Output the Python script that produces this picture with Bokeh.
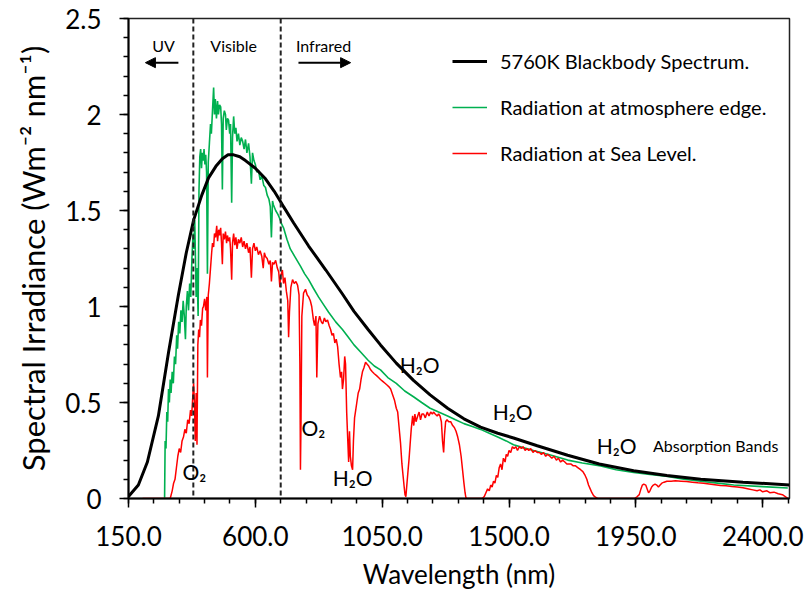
from bokeh.plotting import figure
from bokeh.models import (Legend, LegendItem, Span, Arrow, NormalHead,
                          FixedTicker, NumeralTickFormatter, Label, Range1d)
from bokeh.embed import file_html
from bokeh.resources import INLINE

# ---------------- data ----------------
bb_wl = [150, 185, 217, 256, 292, 327, 355, 381, 410, 434, 460, 483, 503, 523, 545, 565, 600,
         636, 667, 686, 700, 736, 789, 850, 909, 950, 1000, 1044, 1100, 1161, 1220, 1282, 1340,
         1399, 1460, 1516, 1600, 1708, 1820, 1942, 2060, 2180, 2330, 2495]
bb_irr = [0.01, 0.07, 0.19, 0.43, 0.76, 1.06, 1.28, 1.45, 1.58, 1.67, 1.73, 1.77, 1.79, 1.79,
          1.78, 1.76, 1.72, 1.665, 1.60, 1.555, 1.52, 1.435, 1.315, 1.19, 1.065, 0.975, 0.88,
          0.80, 0.705, 0.615, 0.54, 0.47, 0.415, 0.372, 0.34, 0.315, 0.275, 0.225, 0.18, 0.145,
          0.12, 0.10, 0.085, 0.07]

toa_wl = [278, 280, 283, 286, 289, 292, 295, 298, 301, 305, 309, 313, 317, 321, 324, 328, 332,
          336, 340, 344, 348, 352, 355, 359, 363, 367, 371, 375, 379, 382, 385, 390, 393, 397,
          400, 403, 406, 409, 412, 415, 418, 421, 424, 427, 430, 433, 437, 441, 444, 448, 452,
          455, 458, 462, 466, 469, 473, 477, 480, 483, 486, 490, 494, 497, 501, 505, 509, 512,
          516, 519, 523, 527, 531, 535, 540, 545, 550, 555, 560, 565, 570, 576, 581, 586, 590,
          595, 600, 605, 611, 617, 623, 630, 636, 642, 648, 653, 657, 661, 664, 672, 680, 686,
          693, 700, 712, 724, 740, 760, 775, 789, 806, 824, 842, 860, 885, 909, 930, 950, 975,
          1000, 1022, 1044, 1070, 1100, 1130, 1161, 1190, 1220, 1250, 1282, 1310, 1340, 1370,
          1399, 1430, 1460, 1490, 1516, 1550, 1587, 1650, 1708, 1760, 1825, 1880, 1942, 2000,
          2063, 2120, 2180, 2240, 2297, 2400, 2489]
toa_irr = [0.00, 0.30, 0.26, 0.45, 0.40, 0.57, 0.50, 0.62, 0.55, 0.66, 0.60, 0.74, 0.70, 0.85,
           0.78, 0.92, 0.86, 0.98, 0.92, 1.03, 0.95, 0.83, 1.00, 1.08, 0.98, 1.12, 1.05, 1.25,
           1.38, 1.30, 1.45, 1.05, 1.20, 0.95, 1.60, 1.78, 1.82, 1.72, 1.80, 1.76, 1.82, 1.74,
           1.79, 1.70, 1.17, 1.75, 1.85, 1.95, 1.90, 2.02, 2.14, 2.00, 2.08, 1.98, 2.07, 2.00,
           2.05, 2.04, 1.95, 1.61, 1.98, 2.02, 2.00, 1.92, 1.98, 1.97, 1.90, 1.95, 1.54, 1.88,
           1.99, 1.90, 1.93, 1.86, 1.90, 1.84, 1.88, 1.86, 1.82, 1.87, 1.80, 1.85, 1.78, 1.64,
           1.80, 1.76, 1.74, 1.70, 1.71, 1.66, 1.68, 1.63, 1.62, 1.58, 1.56, 1.52, 1.36, 1.55,
           1.53, 1.50, 1.48, 1.46, 1.43, 1.41, 1.35, 1.30, 1.26, 1.21, 1.17, 1.14, 1.095, 1.05,
           1.01, 0.97, 0.92, 0.88, 0.84, 0.80, 0.76, 0.72, 0.69, 0.67, 0.63, 0.60, 0.56, 0.53,
           0.50, 0.47, 0.45, 0.43, 0.41, 0.39, 0.375, 0.36, 0.34, 0.32, 0.30, 0.28, 0.265, 0.25,
           0.225, 0.20, 0.185, 0.17, 0.15, 0.135, 0.125, 0.115, 0.10, 0.09, 0.08, 0.07, 0.062,
           0.055]

sea_wl = [200, 298, 305, 310, 315, 320, 325, 330, 335, 340, 345, 350, 355, 360, 365, 370, 374,
          378, 381, 384, 387, 390, 393, 396, 399, 402, 405, 409, 413, 416, 420, 424, 428, 430,
          433, 437, 441, 445, 448, 452, 455, 459, 463, 466, 470, 473, 477, 480, 483, 486, 490,
          494, 498, 501, 505, 509, 512, 516, 519, 523, 527, 531, 535, 540, 545, 550, 555, 560,
          565, 570, 576, 581, 586, 590, 595, 600, 605, 611, 617, 623, 628, 632, 636, 642, 648,
          653, 657, 661, 666, 672, 678, 683, 687, 690, 696, 700, 705, 710, 715, 718, 721, 726,
          732, 738, 744, 750, 755, 758, 760, 762, 765, 771, 778, 784, 789, 795, 800, 806, 810,
          815, 818, 822, 828, 834, 839, 845, 850, 856, 862, 867, 872, 877, 882, 887, 892, 897,
          902, 906, 909, 913, 917, 920, 924, 928, 931, 934, 937, 941, 945, 948, 952, 955, 960,
          965, 970, 975, 980, 985, 991, 996, 1002, 1009, 1015, 1022, 1030, 1037, 1044, 1052,
          1060, 1068, 1075, 1080, 1087, 1094, 1100, 1105, 1110, 1115, 1120, 1124, 1128, 1131,
          1134, 1138, 1142, 1145, 1149, 1153, 1158, 1162, 1166, 1170, 1176, 1181, 1186, 1191,
          1197, 1203, 1210, 1216, 1222, 1228, 1232, 1238, 1245, 1250, 1255, 1260, 1264, 1268,
          1271, 1275, 1280, 1286, 1293, 1300, 1306, 1312, 1318, 1324, 1330, 1335, 1340, 1344,
          1347, 1350, 1405, 1412, 1418, 1424, 1430, 1435, 1440, 1445, 1450, 1455, 1460, 1465,
          1470, 1475, 1480, 1486, 1490, 1495, 1500, 1506, 1512, 1518, 1524, 1530, 1537, 1544,
          1550, 1557, 1564, 1570, 1577, 1585, 1592, 1600, 1608, 1615, 1622, 1630, 1637, 1645,
          1652, 1660, 1668, 1675, 1683, 1690, 1698, 1705, 1712, 1719, 1728, 1736, 1745, 1754,
          1762, 1770, 1776, 1782, 1788, 1794, 1800, 1808, 1815, 1945, 1955, 1962, 1968, 1973,
          1978, 1985, 1990, 1995, 2000, 2006, 2012, 2018, 2024, 2030, 2036, 2042, 2050, 2060,
          2075, 2090, 2110, 2130, 2150, 2170, 2190, 2210, 2230, 2250, 2270, 2290, 2310, 2330,
          2350, 2365, 2380, 2390, 2400, 2415, 2425, 2440, 2455, 2470, 2480, 2490]
sea_irr = [0.0, 0.0, 0.04, 0.08, 0.10, 0.16, 0.22, 0.26, 0.24, 0.30, 0.32, 0.36, 0.34, 0.41,
           0.39, 0.46, 0.43, 0.53, 0.60, 0.50, 0.30, 0.55, 0.28, 0.80, 0.88, 0.84, 0.93, 0.90,
           0.99, 1.00, 1.04, 0.98, 1.05, 0.63, 1.06, 1.12, 1.20, 1.28, 1.33, 1.31, 1.38, 1.36,
           1.42, 1.34, 1.40, 1.37, 1.41, 1.33, 1.22, 1.38, 1.35, 1.39, 1.33, 1.37, 1.34, 1.36,
           1.30, 1.14, 1.33, 1.38, 1.32, 1.36, 1.30, 1.35, 1.33, 1.36, 1.31, 1.34, 1.30, 1.33,
           1.28, 1.31, 1.15, 1.30, 1.33, 1.29, 1.31, 1.27, 1.29, 1.26, 1.20, 1.28, 1.26, 1.25,
           1.22, 1.24, 1.13, 1.23, 1.22, 1.24, 1.20, 1.18, 1.10, 1.16, 1.19, 1.12, 1.15, 1.08,
           1.03, 0.84, 0.97, 1.10, 1.14, 1.12, 1.13, 1.11, 1.06, 0.70, 0.15, 0.40, 0.95, 1.07,
           1.09, 1.06, 1.05, 1.03, 1.00, 0.93, 0.90, 0.95, 0.63, 0.91, 0.95, 0.92, 0.91, 0.94,
           0.92, 0.93, 0.90, 0.88, 0.85, 0.86, 0.81, 0.83, 0.79, 0.70, 0.63, 0.66, 0.57, 0.62,
           0.74, 0.70, 0.45, 0.30, 0.19, 0.35, 0.22, 0.17, 0.15, 0.30, 0.42, 0.45, 0.50, 0.55,
           0.57, 0.62, 0.66, 0.68, 0.71, 0.70, 0.69, 0.67, 0.66, 0.65, 0.64, 0.63, 0.62, 0.61,
           0.60, 0.59, 0.58, 0.57, 0.54, 0.51, 0.47, 0.45, 0.37, 0.29, 0.18, 0.12, 0.06, 0.02,
           0.01, 0.08, 0.15, 0.20, 0.28, 0.36, 0.43, 0.38, 0.44, 0.40, 0.43, 0.45, 0.41, 0.44,
           0.44, 0.42, 0.45, 0.43, 0.45, 0.44, 0.45, 0.44, 0.43, 0.44, 0.43, 0.40, 0.30, 0.24,
           0.33, 0.40, 0.41, 0.40, 0.40, 0.38, 0.37, 0.35, 0.32, 0.28, 0.22, 0.15, 0.08, 0.03,
           0.005, 0.0, 0.0, 0.01, 0.03, 0.05, 0.04, 0.07, 0.06, 0.09, 0.08, 0.12, 0.11, 0.16,
           0.18, 0.15, 0.21, 0.19, 0.23, 0.22, 0.25, 0.24, 0.27, 0.26, 0.27, 0.25, 0.27, 0.26,
           0.27, 0.25, 0.26, 0.25, 0.26, 0.24, 0.25, 0.24, 0.24, 0.23, 0.24, 0.22, 0.23, 0.22,
           0.21, 0.22, 0.20, 0.21, 0.19, 0.20, 0.19, 0.18, 0.18, 0.18, 0.17, 0.17, 0.16, 0.15,
           0.14, 0.12, 0.10, 0.07, 0.05, 0.03, 0.015, 0.005, 0.0, 0.0, 0.01, 0.02, 0.05, 0.07,
           0.075, 0.07, 0.05, 0.03, 0.04, 0.06, 0.07, 0.075, 0.07, 0.06, 0.07, 0.08, 0.085,
           0.09, 0.09, 0.092, 0.09, 0.088, 0.085, 0.082, 0.08, 0.076, 0.072, 0.068, 0.066,
           0.062, 0.06, 0.056, 0.05, 0.045, 0.04, 0.045, 0.035, 0.04, 0.03, 0.033, 0.025, 0.02,
           0.01, 0.0]

x_ticks = [150, 600, 1050, 1500, 1950, 2400]
x_minor = [150 + 90 * i for i in range(27)]
y_ticks = [0, 0.5, 1, 1.5, 2, 2.5]
y_tick_labels = ["0", "0.5", "1", "1.5", "2", "2.5"]
y_minor = [round(0.1 * i, 1) for i in range(26)]

band_edges = [380, 690]
legend_labels = ["5760K Blackbody Spectrum.", "Radiation at atmosphere edge.", "Radiation at Sea Level."]

# ---------------- figure ----------------
FONT = "Lato"
p = figure(width=805, height=592, output_backend="svg", toolbar_location=None,
           x_range=Range1d(150, 2495), y_range=Range1d(0, 2.5),
           min_border_left=128, min_border_right=16, min_border_top=18, min_border_bottom=93)
p.background_fill_color = "white"
p.border_fill_color = "white"
p.xgrid.visible = False
p.ygrid.visible = False
p.outline_line_color = "#222222"
p.outline_line_width = 1.5

r_toa = p.line(toa_wl, toa_irr, line_color="#00B050", line_width=1.6)
r_sea = p.line(sea_wl, sea_irr, line_color="#FF0000", line_width=1.5)
r_bb = p.line(bb_wl, bb_irr, line_color="black", line_width=3)

for e in band_edges:
    p.add_layout(Span(location=e, dimension="height", line_color="#222222",
                      line_width=2, line_dash="5 3"))

# axes
xa = p.xaxis[0]
xa.ticker = FixedTicker(ticks=x_ticks, minor_ticks=x_minor)
xa.formatter = NumeralTickFormatter(format="0.0")
xa.axis_label = "Wavelength (nm)"
ya = p.yaxis[0]
ya.ticker = FixedTicker(ticks=y_ticks, minor_ticks=y_minor)
ya.major_label_overrides = {t: l for t, l in zip(y_ticks, y_tick_labels)}
ya.axis_label = "Spectral Irradiance (Wm\u207b\u00b2 nm\u207b\u00b9)"
for ax in (xa, ya):
    ax.axis_line_color = "black"
    ax.axis_line_width = 2
    ax.major_tick_line_color = "black"
    ax.minor_tick_line_color = "black"
    ax.major_tick_line_width = 1.5
    ax.minor_tick_line_width = 1.5
    ax.major_tick_in = 0
    ax.minor_tick_in = 0
    ax.major_tick_out = 9
    ax.minor_tick_out = 5
    ax.major_label_text_font = FONT
    ax.major_label_text_font_size = "26px"
    ax.major_label_text_color = "black"
    ax.axis_label_text_font = FONT
    ax.axis_label_text_font_style = "normal"
    ax.axis_label_text_color = "black"
xa.axis_label_text_font_size = "26px"
ya.axis_label_text_font_size = "31px"
xa.major_label_standoff = 18
xa.axis_label_standoff = 9
ya.major_label_standoff = 18
ya.axis_label_standoff = 10

# legend
legend = Legend(items=[LegendItem(label=legend_labels[0], renderers=[r_bb]),
                       LegendItem(label=legend_labels[1], renderers=[r_toa]),
                       LegendItem(label=legend_labels[2], renderers=[r_sea])],
                location=(324, 333), border_line_color=None, background_fill_alpha=0,
                padding=0, margin=0, spacing=22, glyph_width=35, glyph_height=20,
                label_height=20, label_standoff=13, label_text_font=FONT,
                label_text_font_size="20px", label_text_color="black")
p.add_layout(legend)

# region annotations
for txt, xx in [("UV", 274), ("Visible", 523), ("Infrared", 842)]:
    p.add_layout(Label(x=xx, y=2.36, text=txt, text_align="center", text_baseline="middle",
                       text_font=FONT, text_font_size="16px", text_color="black"))
p.add_layout(Arrow(end=NormalHead(size=10, fill_color="black", line_color="black"),
                   x_start=327, y_start=2.27, x_end=210, y_end=2.27, line_width=2))
p.add_layout(Arrow(end=NormalHead(size=10, fill_color="black", line_color="black"),
                   x_start=753, y_start=2.27, x_end=938, y_end=2.27, line_width=2))

# absorption labels
for txt, xx, yy in [("O\u2082", 384, 0.14), ("O\u2082", 806, 0.37), ("H\u2082O", 945, 0.11),
                    ("H\u2082O", 1183, 0.70), ("H\u2082O", 1513, 0.455), ("H\u2082O", 1882, 0.275)]:
    p.add_layout(Label(x=xx, y=yy, text=txt, text_align="center", text_baseline="middle",
                       text_font=FONT, text_font_size="21px", text_color="black"))
p.add_layout(Label(x=2233, y=0.275, text="Absorption Bands", text_align="center",
                   text_baseline="middle", text_font=FONT, text_font_size="16px",
                   text_color="black"))

open("out.html", "w").write(file_html(p, INLINE))
